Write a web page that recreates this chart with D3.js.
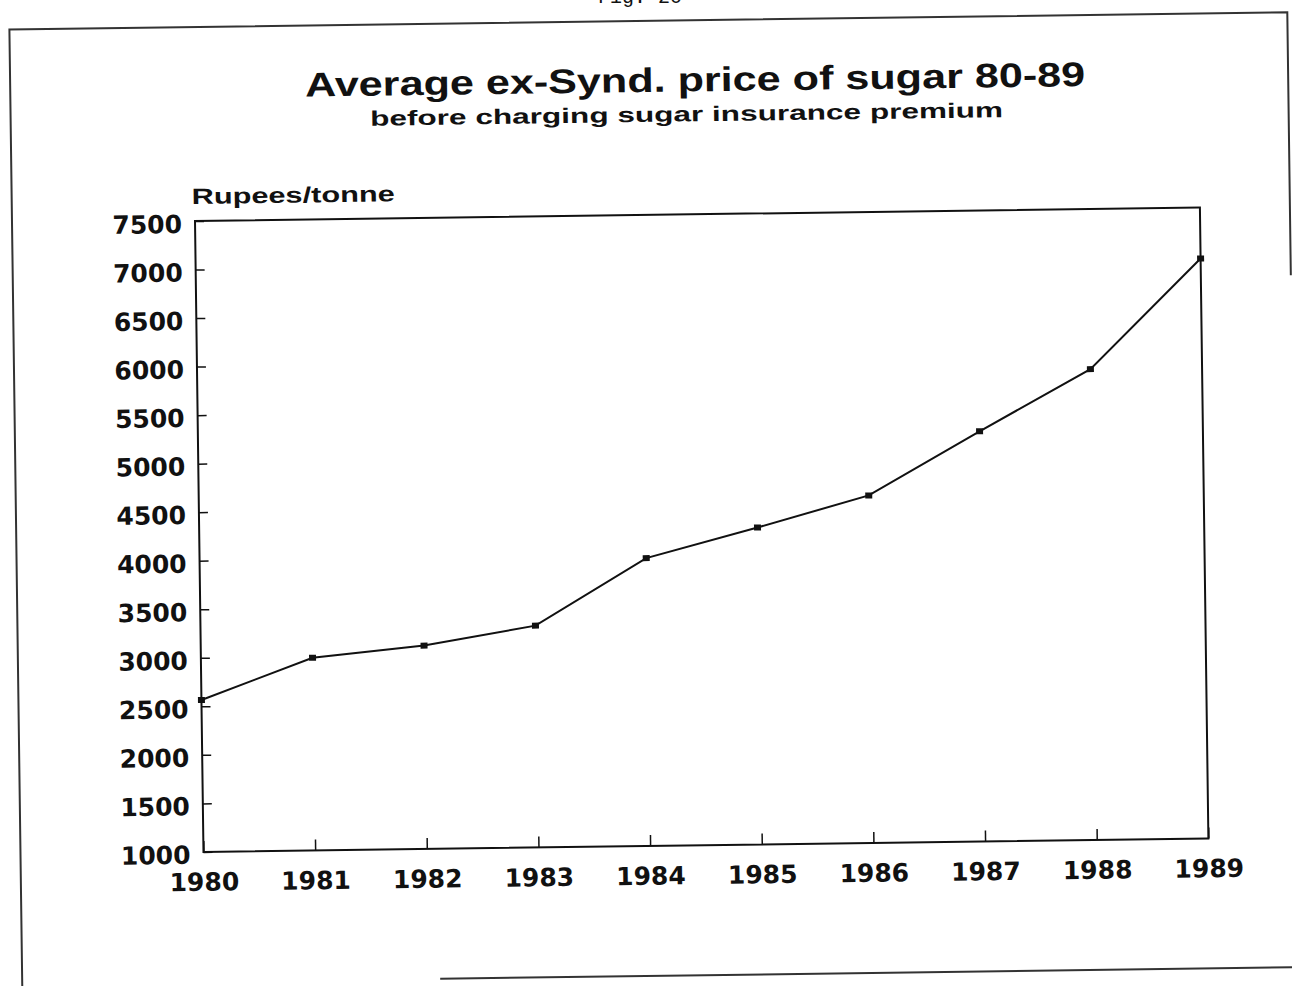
<!DOCTYPE html>
<html>
<head>
<meta charset="UTF-8">
<title>Average ex-Synd. price of sugar 80-89</title>
<script src="https://cdnjs.cloudflare.com/ajax/libs/d3/7.8.5/d3.min.js"></script>
<style>
  body { margin: 0; background: #fff; }
  svg { display: block; }
</style>
</head>
<body>
<svg id="chart" width="1292" height="986"></svg>
<script>
// data
var years = [1980, 1981, 1982, 1983, 1984, 1985, 1986, 1987, 1988, 1989];
var prices = [2565, 2985, 3095, 3285, 3965, 4265, 4580, 5225, 5850, 6975];
var yTickValues = [1000, 1500, 2000, 2500, 3000, 3500, 4000, 4500, 5000, 5500, 6000, 6500, 7000, 7500];

var title = "Average ex-Synd. price of sugar 80-89",
    subtitle = "before charging sugar insurance premium",
    yLabel = "Rupees/tonne";

var ink = "#111";
// plot box (before the scan tilt)
var px0 = 195, py0 = 221, px1 = 1200, py1 = 852;

var svg = d3.select("#chart");
svg.append("rect").attr("width", 1292).attr("height", 986).attr("fill", "#fff");

// page reference, cut off by the scan
svg.append("text")
    .attr("x", 640).attr("y", 3)
    .attr("text-anchor", "middle")
    .attr("font-family", "Liberation Mono, monospace")
    .attr("font-size", 20)
    .attr("fill", ink)
    .text("Fig. 20");

// the scan is tilted a little
var g = svg.append("g").attr("transform", "rotate(-0.77," + px0 + "," + py0 + ")");

// page frame (only partly visible in the scan)
var frame = g.append("g").attr("fill", "none").attr("stroke", "#333").attr("stroke-width", 2);
frame.append("path").attr("d", "M12,984 L12,27 L1290,27 L1290,290");
frame.append("path").attr("d", "M430,982 L1290,982");

var x = d3.scaleLinear().domain([1980, 1989]).range([px0, px1]);
var y = d3.scaleLinear().domain([1000, 7500]).range([py1, py0]);

// titles
g.append("text")
    .attr("x", 697).attr("y", 98)
    .attr("text-anchor", "middle")
    .attr("font-family", "Liberation Sans, Arial, sans-serif")
    .attr("font-weight", "bold")
    .attr("font-size", 34)
    .attr("textLength", 780).attr("lengthAdjust", "spacingAndGlyphs")
    .attr("fill", ink)
    .text(title);

g.append("text")
    .attr("x", 688).attr("y", 128)
    .attr("text-anchor", "middle")
    .attr("font-family", "Liberation Sans, Arial, sans-serif")
    .attr("font-weight", "bold")
    .attr("font-size", 21)
    .attr("textLength", 633).attr("lengthAdjust", "spacingAndGlyphs")
    .attr("fill", ink)
    .text(subtitle);

g.append("text")
    .attr("x", 192).attr("y", 204)
    .attr("font-family", "Liberation Sans, Arial, sans-serif")
    .attr("font-weight", "bold")
    .attr("font-size", 22)
    .attr("textLength", 203).attr("lengthAdjust", "spacingAndGlyphs")
    .attr("fill", ink)
    .text(yLabel);

// axes
var yAxis = d3.axisLeft(y).tickValues(yTickValues).tickFormat(d3.format("d"))
    .tickSize(-9).tickPadding(13);
var xAxis = d3.axisBottom(x).tickValues(years).tickFormat(d3.format("d"))
    .tickSize(-11).tickPadding(21);

var ya = g.append("g").attr("transform", "translate(" + px0 + ",0)").call(yAxis);
var xa = g.append("g").attr("transform", "translate(0," + py1 + ")").call(xAxis);

[ya, xa].forEach(function (a) {
    a.select(".domain").remove();
    a.selectAll("line").attr("stroke", ink).attr("stroke-width", 1.5);
    a.selectAll("text")
        .attr("fill", ink)
        .attr("font-family", "DejaVu Sans, sans-serif")
        .attr("font-weight", "bold")
        .attr("font-size", 25);
});
ya.selectAll("text").attr("dy", "0.45em");

// plot frame
g.append("rect")
    .attr("x", px0).attr("y", py0)
    .attr("width", px1 - px0).attr("height", py1 - py0)
    .attr("fill", "none").attr("stroke", ink).attr("stroke-width", 2);

// series
var line = d3.line()
    .x(function (d, i) { return x(years[i]); })
    .y(function (d) { return y(d); });

g.append("path")
    .datum(prices)
    .attr("d", line)
    .attr("fill", "none")
    .attr("stroke", ink)
    .attr("stroke-width", 2);

g.selectAll(".pt")
    .data(prices)
    .enter().append("rect")
    .attr("class", "pt")
    .attr("x", function (d, i) { return x(years[i]) - 3.5; })
    .attr("y", function (d) { return y(d) - 3; })
    .attr("width", 7).attr("height", 6)
    .attr("fill", ink);
</script>
</body>
</html>
